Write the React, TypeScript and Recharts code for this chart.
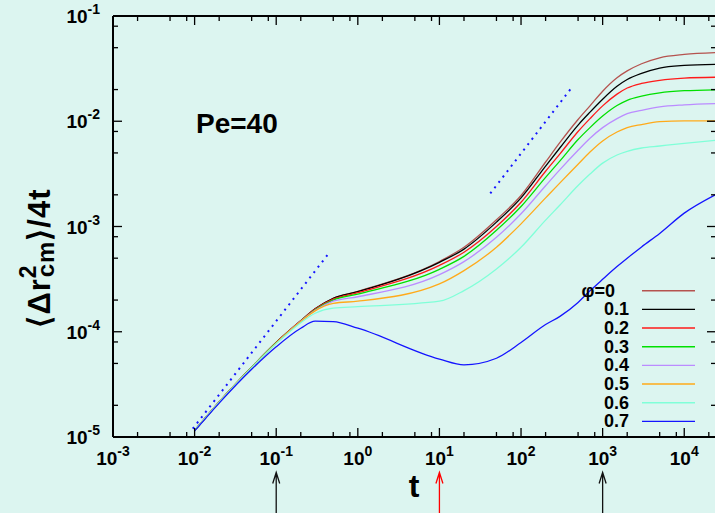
import React from 'react';
import { LineChart, Line, XAxis, YAxis, ReferenceLine, Legend, Customized } from 'recharts';

// time points (log-spaced, as sampled in the figure)
const T = [0.01, 0.02, 0.05, 0.1, 0.2, 0.3, 0.5, 1, 10, 20, 50, 100, 200, 300, 500, 700, 1000, 1500, 2000, 3000, 5000, 10000, 24000];

const PHI_LABELS = ['φ=0', '0.1', '0.2', '0.3', '0.4', '0.5', '0.6', '0.7'];
const PHI_COLORS = ['#b5534f', '#000000', '#ff1a1a', '#00e000', '#bb8cff', '#ffaa1a', '#80ffd8', '#1414ff'];

// <Δr_cm^2>/4t for each volume fraction
const MSD_PHI0 = [1.15e-5, 2.15e-5, 4.6e-5, 7.9e-5, 1.27e-4, 1.65e-4, 2.08e-4, 2.42e-4, 4.65e-4, 6.35e-4, 1.16e-3, 1.97e-3, 4.1e-3, 6.3e-3, 1.04e-2, 1.4e-2, 1.93e-2, 2.59e-2, 3.01e-2, 3.52e-2, 4.01e-2, 4.31e-2, 4.48e-2];
const MSD_PHI1 = [1.15e-5, 2.15e-5, 4.6e-5, 7.9e-5, 1.27e-4, 1.65e-4, 2.08e-4, 2.4e-4, 4.57e-4, 6.1e-4, 1.1e-3, 1.87e-3, 3.75e-3, 5.6e-3, 9.2e-3, 1.22e-2, 1.62e-2, 2.15e-2, 2.49e-2, 2.85e-2, 3.2e-2, 3.39e-2, 3.47e-2];
const MSD_PHI2 = [1.15e-5, 2.15e-5, 4.6e-5, 7.9e-5, 1.27e-4, 1.64e-4, 2.04e-4, 2.35e-4, 4.27e-4, 5.7e-4, 1.0e-3, 1.7e-3, 3.35e-3, 4.9e-3, 8.0e-3, 1.06e-2, 1.4e-2, 1.81e-2, 2.07e-2, 2.29e-2, 2.45e-2, 2.57e-2, 2.62e-2];
const MSD_PHI3 = [1.15e-5, 2.15e-5, 4.6e-5, 7.85e-5, 1.26e-4, 1.62e-4, 2.0e-4, 2.28e-4, 3.92e-4, 5.2e-4, 9.2e-4, 1.55e-3, 2.93e-3, 4.2e-3, 6.7e-3, 8.7e-3, 1.12e-2, 1.41e-2, 1.58e-2, 1.73e-2, 1.86e-2, 1.95e-2, 1.99e-2];
const MSD_PHI4 = [1.15e-5, 2.15e-5, 4.58e-5, 7.8e-5, 1.26e-4, 1.6e-4, 1.95e-4, 2.15e-4, 3.49e-4, 4.64e-4, 7.9e-4, 1.32e-3, 2.44e-3, 3.47e-3, 5.3e-3, 6.9e-3, 8.7e-3, 1.06e-2, 1.18e-2, 1.27e-2, 1.37e-2, 1.43e-2, 1.47e-2];
const MSD_PHI5 = [1.15e-5, 2.15e-5, 4.57e-5, 7.8e-5, 1.25e-4, 1.58e-4, 1.86e-4, 1.95e-4, 2.85e-4, 3.81e-4, 6.35e-4, 1.06e-3, 1.87e-3, 2.6e-3, 3.9e-3, 5.1e-3, 6.5e-3, 7.9e-3, 8.7e-3, 9.3e-3, 9.9e-3, 1.01e-2, 1.01e-2];
const MSD_PHI6 = [1.15e-5, 2.14e-5, 4.55e-5, 7.7e-5, 1.22e-4, 1.5e-4, 1.68e-4, 1.73e-4, 1.95e-4, 2.46e-4, 3.95e-4, 6.35e-4, 1.15e-3, 1.6e-3, 2.45e-3, 3.15e-3, 4.0e-3, 4.78e-3, 5.18e-3, 5.57e-3, 5.82e-3, 6.17e-3, 6.59e-3];
const MSD_PHI7 = [1.14e-5, 2.1e-5, 4.4e-5, 7.2e-5, 1.08e-4, 1.26e-4, 1.25e-4, 1.08e-4, 5.5e-5, 4.85e-5, 5.6e-5, 7.9e-5, 1.17e-4, 1.4e-4, 1.9e-4, 2.45e-4, 3.15e-4, 4.16e-4, 5.0e-4, 6.4e-4, 8.6e-4, 1.34e-3, 2.0e-3];

const SERIES = [MSD_PHI0, MSD_PHI1, MSD_PHI2, MSD_PHI3, MSD_PHI4, MSD_PHI5, MSD_PHI6, MSD_PHI7];

// slope-1 guide lines (dotted)
const GUIDE_SHORT = [{ t: 0.0095, v: 1.2e-5 }, { t: 0.46, v: 5.8e-4 }];
const GUIDE_LONG = [{ t: 42, v: 2.06e-3 }, { t: 430, v: 2.15e-2 }];

// arrows under the time axis
const ARROW_TIMES = [0.1, 10, 1000];
const ARROW_COLORS = ['#111111', '#ff0000', '#111111'];
const ARROW_TIP = 4.6e-6;
const ARROW_END = 1.5e-6;

const X_DOMAIN = [1e-3, 2.45e4];
const Y_DOMAIN = [1e-5, 1e-1];
const X_DECADES = [-3, -2, -1, 0, 1, 2, 3, 4];
const Y_DECADES = [-5, -4, -3, -2];
const MINORS = [1, 2, 5, 8];

const FONT = '"Liberation Sans", Arial, Helvetica, sans-serif';
const BG = '#dcf5f0';

const buildTicks = (decades: number[], max: number) => {
  const out: number[] = [];
  decades.forEach(d => {
    MINORS.forEach(m => {
      const v = Number((m * Math.pow(10, d)).toPrecision(6));
      if (v <= max) out.push(v);
    });
  });
  if (!out.includes(max) && Math.abs(Math.log10(max) - Math.round(Math.log10(max))) < 1e-9) out.push(max);
  return out;
};

const X_TICKS = buildTicks(X_DECADES, X_DOMAIN[1]);
const Y_TICKS = buildTicks(Y_DECADES, Y_DOMAIN[1]);

const isMajor = (v: number) => Math.abs(Math.log10(v) - Math.round(Math.log10(v))) < 1e-9;
const expOf = (v: number) => Math.round(Math.log10(v));

const tableData = T.map((t, i) => {
  const row: { [key: string]: number } = { t };
  SERIES.forEach((s, k) => {
    row[`p${k}`] = s[i];
  });
  return row;
});

const XTickBottom = (props: any) => {
  const { x, y, payload } = props;
  const major = isMajor(payload.value);
  return (
    <g>
      <line x1={x} x2={x} y1={y} y2={y - (major ? 9 : 5)} stroke="#000" strokeWidth={1.3} />
      {major && (
        <text x={x} y={y + 28} textAnchor="middle" fontSize={19} fontWeight="bold" fontFamily={FONT} fill="#000">
          10<tspan dy={-9} fontSize={14}>{expOf(payload.value)}</tspan>
        </text>
      )}
    </g>
  );
};

const XTickTop = (props: any) => {
  const { x, y, payload } = props;
  const major = isMajor(payload.value);
  return <line x1={x} x2={x} y1={y} y2={y + (major ? 9 : 5)} stroke="#000" strokeWidth={1.3} />;
};

const YTickLeft = (props: any) => {
  const { x, y, payload } = props;
  const major = isMajor(payload.value);
  return (
    <g>
      <line x1={x} x2={x + (major ? 9 : 5)} y1={y} y2={y} stroke="#000" strokeWidth={1.3} />
      {major && (
        <text x={x - 13} y={y + 7} textAnchor="end" fontSize={19} fontWeight="bold" fontFamily={FONT} fill="#000">
          10<tspan dy={-9} fontSize={14}>{expOf(payload.value)}</tspan>
        </text>
      )}
    </g>
  );
};

const YTickRight = (props: any) => {
  const { x, y, payload } = props;
  const major = isMajor(payload.value);
  return <line x1={x} x2={x - (major ? 9 : 5)} y1={y} y2={y} stroke="#000" strokeWidth={1.3} />;
};

const ArrowShape = (props: any) => {
  const { x1, y1, x2, y2, stroke } = props;
  const tipY = Math.min(y1, y2);
  const endY = Math.max(y1, y2);
  return (
    <path
      d={`M${x1},${tipY} L${x2},${endY} M${x1 - 3.5},${tipY + 11} L${x1},${tipY} L${x1 + 3.5},${tipY + 11}`}
      stroke={stroke}
      strokeWidth={1.3}
      fill="none"
    />
  );
};

const KeyBox = () => (
  <svg width={140} height={165} style={{ display: 'block' }}>
    {PHI_LABELS.map((label, i) => {
      const cy = 10.7 + i * 18.67;
      return (
        <g key={label}>
          <text
            x={i === 0 ? 40 : 54}
            y={cy + 6}
            textAnchor="end"
            fontSize={18}
            fontWeight="bold"
            fontFamily={FONT}
            fill="#000"
          >
            {label}
          </text>
          <line x1={67} x2={120} y1={cy} y2={cy} stroke={PHI_COLORS[i]} strokeWidth={1.4} />
        </g>
      );
    })}
  </svg>
);

const ChartTexts = () => (
  <g fontFamily={FONT} fontWeight="bold" fill="#000">
    <text x={196} y={133} fontSize={28}>Pe=40</text>
    <text x={414} y={497} fontSize={32} textAnchor="middle">t</text>
    <text transform="translate(50,258) rotate(-90)" textAnchor="middle" fontSize={31} letterSpacing={1}>
      ⟨Δr
      <tspan dy={-14} fontSize={23}>2</tspan>
      <tspan dx={-13} dy={18} fontSize={24}>cm</tspan>
      <tspan dy={-4}>⟩/4t</tspan>
    </text>
  </g>
);

const axisLine = { stroke: '#000', strokeWidth: 2 };

export default function App() {
  return (
    <div style={{ position: 'fixed', left: 0, top: 0, width: 715, height: 513, overflow: 'hidden', background: BG }}>
      <LineChart
        width={730}
        height={513}
        data={tableData}
        margin={{ top: 15, right: 13, bottom: 75, left: 112 }}
      >
        <XAxis
          dataKey="t"
          type="number"
          scale="log"
          domain={X_DOMAIN}
          allowDataOverflow
          ticks={X_TICKS}
          interval={0}
          height={1}
          tickSize={0}
          tickMargin={0}
          tickLine={false}
          axisLine={axisLine}
          tick={<XTickBottom />}
        />
        <XAxis
          xAxisId="top"
          orientation="top"
          dataKey="t"
          type="number"
          scale="log"
          domain={X_DOMAIN}
          allowDataOverflow
          ticks={X_TICKS}
          interval={0}
          height={1}
          tickSize={0}
          tickMargin={0}
          tickLine={false}
          axisLine={axisLine}
          tick={<XTickTop />}
        />
        <YAxis
          type="number"
          scale="log"
          domain={Y_DOMAIN}
          allowDataOverflow
          ticks={Y_TICKS}
          interval={0}
          width={1}
          tickSize={0}
          tickMargin={0}
          tickLine={false}
          axisLine={axisLine}
          tick={<YTickLeft />}
        />
        <YAxis
          yAxisId="right"
          orientation="right"
          type="number"
          scale="log"
          domain={Y_DOMAIN}
          allowDataOverflow
          ticks={Y_TICKS}
          interval={0}
          width={1}
          tickSize={0}
          tickMargin={0}
          tickLine={false}
          axisLine={axisLine}
          tick={<YTickRight />}
        />

        <Line
          data={GUIDE_SHORT}
          dataKey="v"
          stroke="#1414ff"
          strokeWidth={2}
          strokeDasharray="2 4.8"
          dot={false}
          activeDot={false}
          legendType="none"
          isAnimationActive={false}
        />
        <Line
          data={GUIDE_LONG}
          dataKey="v"
          stroke="#1414ff"
          strokeWidth={2}
          strokeDasharray="2 4.8"
          dot={false}
          activeDot={false}
          legendType="none"
          isAnimationActive={false}
        />

        {SERIES.map((_, k) => (
          <Line
            key={`p${k}`}
            dataKey={`p${k}`}
            name={PHI_LABELS[k]}
            type="monotone"
            stroke={PHI_COLORS[k]}
            strokeWidth={1.3}
            dot={false}
            activeDot={false}
            isAnimationActive={false}
          />
        ))}

        {ARROW_TIMES.map((t, i) => (
          <ReferenceLine
            key={`arrow-${t}`}
            segment={[{ x: t, y: ARROW_TIP }, { x: t, y: ARROW_END }]}
            stroke={ARROW_COLORS[i]}
            ifOverflow="visible"
            shape={<ArrowShape />}
          />
        ))}

        <Legend
          layout="vertical"
          align="center"
          verticalAlign="middle"
          content={() => <KeyBox />}
          wrapperStyle={{ position: 'absolute', left: 575, top: 280, width: 140, height: 165 }}
        />
        <Customized component={<ChartTexts />} />
      </LineChart>
    </div>
  );
}
